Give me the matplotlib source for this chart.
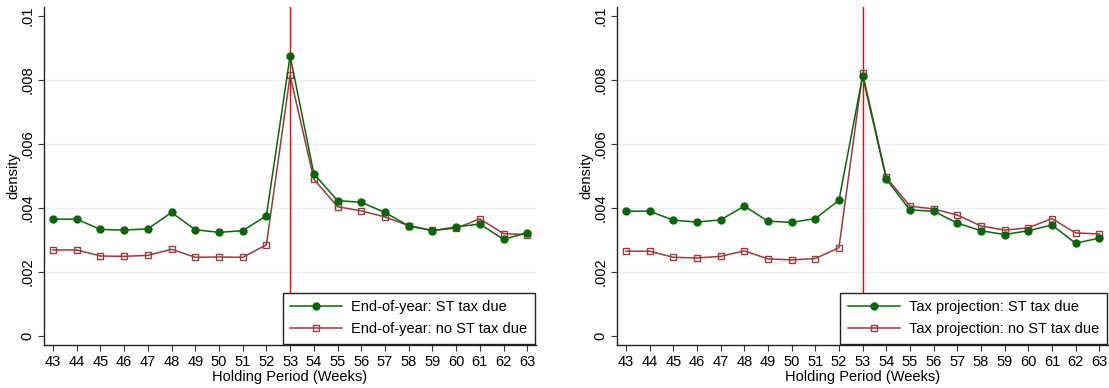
import matplotlib
matplotlib.use("Agg")
import matplotlib.pyplot as plt
from matplotlib.ticker import FixedLocator

plt.rcParams['font.family'] = ['Liberation Sans', 'DejaVu Sans']

weeks = list(range(43, 64))

eoy_st_due = [0.00365, 0.00365, 0.00333, 0.00331, 0.00335, 0.00386, 0.00332,
              0.00324, 0.00329, 0.00376, 0.00876, 0.00507, 0.00423, 0.00418,
              0.00386, 0.00344, 0.00329, 0.00341, 0.00350, 0.00302, 0.00323]
eoy_no_st_due = [0.00269, 0.00269, 0.00250, 0.00249, 0.00252, 0.00271, 0.00246,
                 0.00247, 0.00246, 0.00285, 0.00814, 0.00490, 0.00404, 0.00391,
                 0.00372, 0.00345, 0.00330, 0.00337, 0.00366, 0.00320, 0.00317]

proj_st_due = [0.00390, 0.00390, 0.00362, 0.00356, 0.00363, 0.00406, 0.00359,
               0.00355, 0.00367, 0.00424, 0.00812, 0.00490, 0.00394, 0.00390,
               0.00353, 0.00329, 0.00317, 0.00329, 0.00347, 0.00290, 0.00306]
proj_no_st_due = [0.00265, 0.00265, 0.00246, 0.00244, 0.00249, 0.00266, 0.00241,
                  0.00238, 0.00242, 0.00276, 0.00821, 0.00496, 0.00406, 0.00397,
                  0.00378, 0.00344, 0.00331, 0.00338, 0.00367, 0.00322, 0.00319]

y_ticks = [0, 0.002, 0.004, 0.006, 0.008, 0.01]
y_tick_labels = ["0", ".002", ".004", ".006", ".008", ".01"]
cutoff_week = 53

GREEN = "#0a660a"
MAROON = "#9a3b3f"

panels = [
    ("End-of-year", eoy_st_due, eoy_no_st_due, [44 / 1109, 536 / 1109]),
    ("Tax projection", proj_st_due, proj_no_st_due, [617 / 1109, 1108 / 1109]),
]

fig = plt.figure(figsize=(11.09, 3.88), dpi=100)
bottom = 1 - 345 / 388
top = 1 - 7 / 388

for name, st, nost, (x0, x1) in panels:
    ax = fig.add_axes([x0, bottom, x1 - x0, top - bottom])
    for yv in y_ticks[1:-1]:
        ax.axhline(yv, color="#e6eff2", lw=1.0, zorder=0)
    ax.axvline(cutoff_week, color="#ff0000", lw=1.0, zorder=1)
    ax.plot(weeks, st, color=GREEN, lw=1.1, marker="o", ms=5,
            markerfacecolor=GREEN, markeredgecolor=GREEN,
            label=f"{name}: ST tax due", zorder=3)
    ax.plot(weeks, nost, color=MAROON, lw=1.1, marker="s", ms=4.5,
            markerfacecolor="none", markeredgecolor=MAROON, markeredgewidth=1.0,
            label=f"{name}: no ST tax due", zorder=2)

    ax.set_xlim(42.62, 63.37)
    ax.set_ylim(-0.00028, 0.01028)
    ax.xaxis.set_major_locator(FixedLocator(weeks))
    ax.set_xticklabels([str(w) for w in weeks], fontsize=10.5)
    ax.set_yticks(y_ticks)
    ax.set_yticklabels(y_tick_labels, fontsize=10.5, rotation=90, va="center")
    ax.tick_params(axis="both", direction="out", length=4, width=0.8, color="#333333", pad=3)
    for side in ("top", "right"):
        ax.spines[side].set_visible(False)
    for side in ("left", "bottom"):
        ax.spines[side].set_linewidth(1.0)
        ax.spines[side].set_color("#222222")
    ax.set_xlabel("Holding Period (Weeks)", fontsize=10.5, labelpad=1)
    ax.set_ylabel("density", fontsize=10.5, labelpad=0)

    leg = ax.legend(loc="lower right", bbox_to_anchor=(1.0, 0.0), fontsize=10.5,
                    frameon=True, fancybox=False, framealpha=1, edgecolor="#222222",
                    handlelength=3.6, borderpad=0.5, labelspacing=0.55,
                    borderaxespad=0.1, handletextpad=0.6)
    leg.get_frame().set_linewidth(1.0)
    leg.set_zorder(5)

fig.savefig("out.png", dpi=100)
